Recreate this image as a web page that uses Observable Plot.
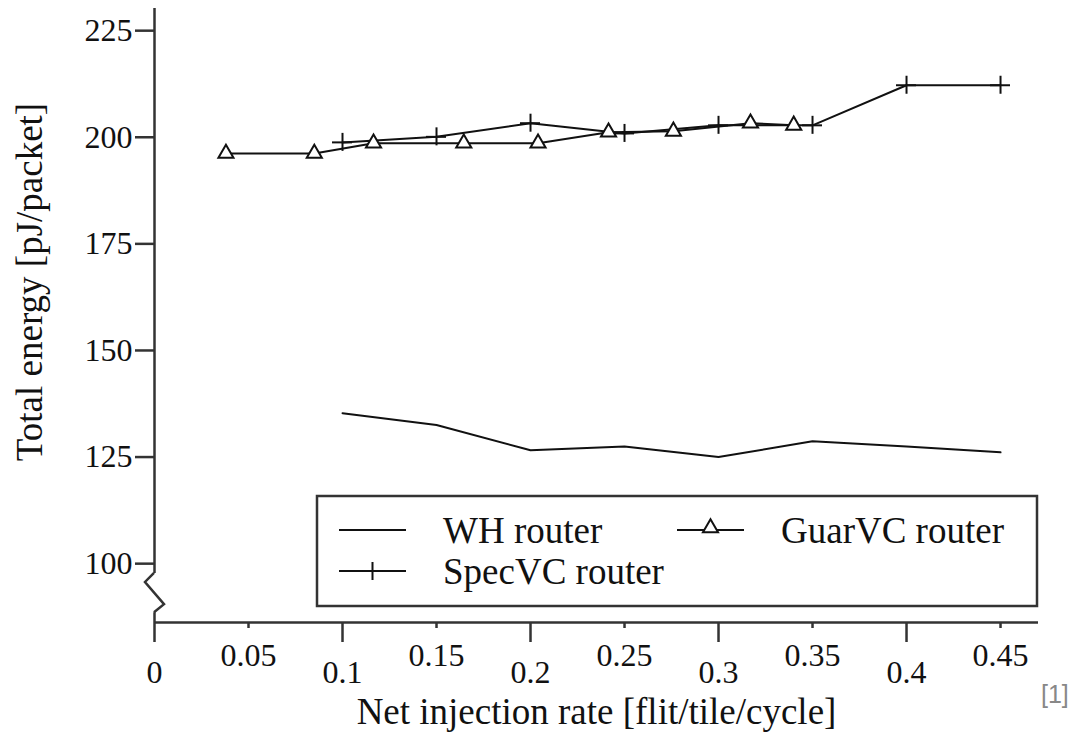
<!DOCTYPE html>
<html><head><meta charset="utf-8">
<script src="https://cdn.jsdelivr.net/npm/d3@7"></script>
<script src="https://cdn.jsdelivr.net/npm/@observablehq/plot@0.6"></script>
<style>
body{margin:0;background:#fff;}
#wrap{position:relative;width:1076px;height:736px;}
#src{position:absolute;left:1041px;top:680px;font-family:"Liberation Sans",Arial,sans-serif;font-size:25px;color:#888;}
</style></head><body><div id="wrap"></div>
<script>
// ---- data ----
const seriesNames = ["WH router", "GuarVC router", "SpecVC router"];
const injWH = [0.1, 0.15, 0.2, 0.25, 0.3, 0.35, 0.4, 0.45];
const energyWH = [135.3, 132.5, 126.6, 127.5, 125.0, 128.7, 127.5, 126.1];
const injGuar = [0.038, 0.085, 0.1165, 0.1645, 0.204, 0.2415, 0.276, 0.317, 0.34];
const energyGuar = [196.2, 196.2, 198.6, 198.6, 198.6, 201.2, 201.4, 203.3, 202.8];
const injSpec = [0.1, 0.15, 0.2, 0.25, 0.3, 0.35, 0.4, 0.45];
const energySpec = [198.8, 200.1, 203.3, 200.9, 202.8, 202.8, 212.2, 212.2];
const xTicksMajor = [0, 0.1, 0.2, 0.3, 0.4];
const xTicksMinor = [0.05, 0.15, 0.25, 0.35, 0.45];
const yTicks = [100, 125, 150, 175, 200, 225];
const xDomain = [0, 0.4702];
const yDomain = [86.2, 230.2];
const yBreak = [88.5, 97.7];
const xTitle = "Net injection rate [flit/tile/cycle]";
const yTitle = "Total energy [pJ/packet]";
const sourceNote = "[1]";

const wh = injWH.map((x, i) => ({x, y: energyWH[i]}));
const guar = injGuar.map((x, i) => ({x, y: energyGuar[i]}));
const spec = injSpec.map((x, i) => ({x, y: energySpec[i]}));

const AX = "#333", INK = "#111";
const serif = "'Liberation Serif','Times New Roman',serif";
const fmt = d => String(d);

const chart = Plot.plot({
  width: 1076, height: 736,
  marginLeft: 154, marginRight: 38, marginTop: 8, marginBottom: 114,
  x: {domain: xDomain, axis: null},
  y: {domain: yDomain, axis: null},
  style: {fontFamily: serif, background: "#fff", overflow: "visible", color: INK},
  marks: [
    // axes lines
    Plot.ruleY([yDomain[0]], {x1: xDomain[0], x2: xDomain[1], stroke: AX, strokeWidth: 2.5}),
    Plot.ruleX([0], {y1: yBreak[1], y2: yDomain[1], stroke: AX, strokeWidth: 2.5}),
    Plot.ruleX([0], {y1: yBreak[0], y2: yDomain[0], stroke: AX, strokeWidth: 2.5}),
    // x ticks
    Plot.ruleX(xTicksMajor, {x: d => d, y1: yDomain[0], y2: yDomain[0], insetBottom: -20, stroke: AX, strokeWidth: 2.5}),
    Plot.ruleX(xTicksMinor, {x: d => d, y1: yDomain[0], y2: yDomain[0], insetBottom: -6, stroke: AX, strokeWidth: 2.5}),
    // y ticks
    Plot.ruleY(yTicks, {y: d => d, x1: 0, x2: 0, insetLeft: -19, stroke: AX, strokeWidth: 2.5}),
    // tick labels
    Plot.text(yTicks, {x: 0, y: d => d, text: fmt, textAnchor: "end", dx: -22, fontSize: 32, fill: INK}),
    Plot.text(xTicksMinor, {x: d => d, y: yDomain[0], text: fmt, dy: 33, fontSize: 32, fill: INK}),
    Plot.text(xTicksMajor, {x: d => d, y: yDomain[0], text: fmt, dy: 50, fontSize: 32, fill: INK}),
    // x axis title
    Plot.text([xTitle], {frameAnchor: "bottom", text: d => d, dy: 101, fontSize: 37, fill: INK}),
    // data
    Plot.line(wh, {x: "x", y: "y", stroke: INK, strokeWidth: 2}),
    Plot.line(spec, {x: "x", y: "y", stroke: INK, strokeWidth: 2}),
    Plot.line(guar, {x: "x", y: "y", stroke: INK, strokeWidth: 2}),
    Plot.ruleX(spec, {x: "x", y1: "y", y2: "y", insetTop: -9, insetBottom: -9, stroke: INK, strokeWidth: 2}),
    Plot.ruleY(spec, {y: "y", x1: "x", x2: "x", insetLeft: -10, insetRight: -10, stroke: INK, strokeWidth: 2}),
    Plot.dot(guar, {x: "x", y: "y", symbol: "triangle", r: 5.6, fill: "white", stroke: INK, strokeWidth: 2})
  ]
});

const wrap = document.getElementById("wrap");
wrap.appendChild(chart);
const svg = d3.select(chart);

// y axis title (rotated)
svg.append("text")
  .attr("transform", "translate(30,282) rotate(-90)")
  .attr("text-anchor", "middle").attr("dy", "0.32em")
  .attr("font-family", serif).attr("font-size", 37).attr("fill", INK)
  .text(yTitle);

// axis break zigzag, placed through the plot's own scales
const sx = chart.scale("x"), sy = chart.scale("y");
const x0 = sx.apply(0), yT = sy.apply(yBreak[1]), yB = sy.apply(yBreak[0]);
svg.append("path")
  .attr("d", `M${x0},${yT}L${x0 - 9},${yT + 9}L${x0 + 10},${yB - 8}L${x0},${yB}`)
  .attr("fill", "none").attr("stroke", AX).attr("stroke-width", 2.5);

// legend box (inside the plot frame, lower right)
const lg = svg.append("g").attr("font-family", serif).attr("font-size", 37).attr("fill", INK);
const L = 317, T = 496, LW = 720, LH = 110;
lg.append("rect").attr("x", L).attr("y", T).attr("width", LW).attr("height", LH)
  .attr("fill", "white").attr("stroke", AX).attr("stroke-width", 2.5);
const entries = [
  {name: seriesNames[0], lx: L + 22, ly: T + 34, sym: null},
  {name: seriesNames[1], lx: L + 360, ly: T + 34, sym: "tri"},
  {name: seriesNames[2], lx: L + 22, ly: T + 75, sym: "plus"}
];
for (const e of entries) {
  lg.append("line").attr("x1", e.lx).attr("x2", e.lx + 67).attr("y1", e.ly).attr("y2", e.ly)
    .attr("stroke", INK).attr("stroke-width", 2);
  const cx = e.lx + 33.5;
  if (e.sym === "tri") {
    lg.append("path").attr("d", d3.symbol(d3.symbolTriangle, Math.PI * 5.6 * 5.6)())
      .attr("transform", `translate(${cx},${e.ly - 2})`).attr("fill", "white").attr("stroke", INK).attr("stroke-width", 2);
  } else if (e.sym === "plus") {
    lg.append("path").attr("d", `M${cx - 10},${e.ly}H${cx + 10}M${cx},${e.ly - 9}V${e.ly + 9}`)
      .attr("stroke", INK).attr("stroke-width", 2);
  }
  lg.append("text").attr("x", e.lx + 104).attr("y", e.ly).attr("dy", "0.35em")
    .attr("text-anchor", "start").text(e.name);
}

const src = document.createElement("div");
src.id = "src"; src.textContent = sourceNote;
wrap.appendChild(src);
</script></body></html>
